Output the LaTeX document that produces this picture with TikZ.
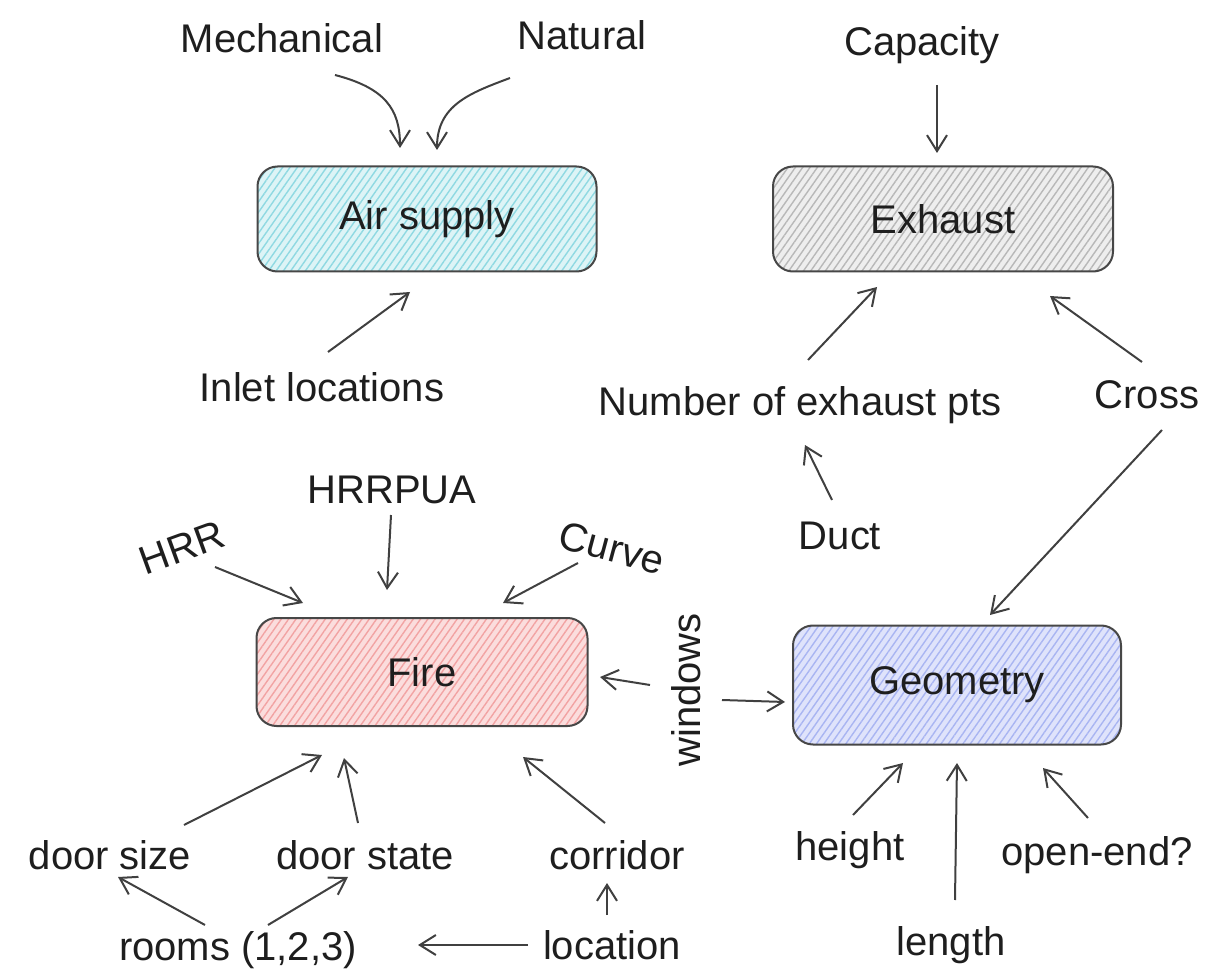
\documentclass[tikz,border=0pt]{standalone}
\usepackage{fontspec}
\setmainfont{Liberation Sans}
\usetikzlibrary{arrows.meta,calc,patterns.meta}
\definecolor{cyanL}{HTML}{8FD9E2}
\definecolor{cyanB}{HTML}{DDF4F6}
\definecolor{grayL}{HTML}{B8B8B8}
\definecolor{grayB}{HTML}{EEEEEE}
\definecolor{pinkL}{HTML}{F2A3A3}
\definecolor{pinkB}{HTML}{FBDDDD}
\definecolor{lavL}{HTML}{A9B5F2}
\definecolor{lavB}{HTML}{DFE3FB}
\definecolor{ink}{HTML}{1E1E1E}
\tikzset{
  lbl/.style={font=\fontsize{20}{24}\selectfont, text=ink, inner sep=1pt},
  box/.style n args={2}{rounded corners=10pt, draw=black!72, line width=1pt,
     preaction={fill=#2},
     pattern={Lines[angle=55,distance=3pt,line width=0.7pt]}, pattern color=#1,
     font=\fontsize{20}{24}\selectfont, text=ink, inner sep=0pt},
  arr/.style={-{Straight Barb[length=8pt,width=10pt,line width=1pt]}, line width=1pt, draw=black!75},
}
\begin{document}
\begin{tikzpicture}[x=0.5pt,y=-0.5pt]
\useasboundingbox (0,0) rectangle (1207,979);
% main boxes
\node[box={cyanL}{cyanB}, minimum width=169.5pt, minimum height=52.5pt] (air) at (427,219) {Air supply};
\node[box={grayL}{grayB}, minimum width=170pt, minimum height=52.5pt] (exh) at (943,219) {Exhaust};
\node[box={pinkL}{pinkB}, minimum width=165.5pt, minimum height=54pt] (fire) at (422,672) {Fire};
\node[box={lavL}{lavB}, minimum width=164pt, minimum height=59.5pt] (geo) at (957,685) {Geometry};
% labels
\node[lbl] (mech) at (282,38) {Mechanical};
\node[lbl] (nat) at (582,35) {Natural};
\node[lbl] (cap) at (922,45) {Capacity};
\node[lbl] (inlet) at (322,387) {Inlet locations};
\node[lbl] (num) at (800,405) {Number of exhaust pts};
\node[lbl] (cross) at (1147,395) {Cross};
\node[lbl] (duct) at (840,536) {Duct};
\node[lbl, rotate=20] (hrr) at (182,548) {HRR};
\node[lbl] (hrrpua) at (392,490) {HRRPUA};
\node[lbl, rotate=-15] (curve) at (612,548) {Curve};
\node[lbl, rotate=90] (win) at (686,690) {windows};
\node[lbl] (dsize) at (110,855) {door size};
\node[lbl] (dstate) at (365,855) {door state};
\node[lbl] (corr) at (617,855) {corridor};
\node[lbl] (height) at (850,850) {height};
\node[lbl] (open) at (1097,855) {open-end?};
\node[lbl] (rooms) at (238,950) {rooms (1,2,3)};
\node[lbl] (loc) at (612,945) {location};
\node[lbl] (length) at (951,945) {length};
% connectors
\draw[arr] ($(mech)+(53,37)$) .. controls ($(mech)+(103,50)$) and ($(air)+(-27,-110)$) .. ($(air)+(-27,-71)$);
\draw[arr] ($(nat)+(-72,43)$) .. controls ($(nat)+(-112,58)$) and ($(air)+(10,-114)$) .. ($(air)+(10,-69)$);
\draw[arr] ($(cap)+(15,40)$) -- ($(exh)+(-6,-66)$);
\draw[arr] ($(inlet)+(6,-35)$) -- ($(air)+(-17,73)$);
\draw[arr] ($(num)+(8,-45)$) -- ($(exh)+(-66,68)$);
\draw[arr] ($(cross)+(-5,-33)$) -- ($(exh)+(107,77)$);
\draw[arr] ($(duct)+(-8,-36)$) -- ($(num)+(5,40)$);
\draw[arr] ($(cross)+(15,35)$) -- ($(geo)+(33,-70)$);
\draw[arr] ($(hrr)+(33,19)$) -- ($(fire)+(-119,-69)$);
\draw[arr] ($(hrrpua)+(-1,25)$) -- ($(fire)+(-35,-82)$);
\draw[arr] ($(curve)+(-34,15)$) -- ($(fire)+(81,-69)$);
\draw[arr] ($(win)+(-36,-5)$) -- ($(fire)+(178,5)$);
\draw[arr] ($(win)+(36,10)$) -- ($(geo)+(-172,17)$);
\draw[arr] ($(dsize)+(74,-30)$) -- ($(fire)+(-100,83)$);
\draw[arr] ($(dstate)+(-7,-32)$) -- ($(fire)+(-78,86)$);
\draw[arr] ($(corr)+(-12,-32)$) -- ($(fire)+(101,85)$);
\draw[arr] ($(rooms)+(-33,-25)$) -- ($(dsize)+(8,22)$);
\draw[arr] ($(rooms)+(30,-25)$) -- ($(dstate)+(-17,22)$);
\draw[arr] ($(loc)+(-5,-30)$) -- ($(corr)+(-10,28)$);
\draw[arr] ($(loc)+(-84,0)$) -- ($(rooms)+(180,-5)$);
\draw[arr] ($(height)+(3,-35)$) -- ($(geo)+(-54,78)$);
\draw[arr] ($(length)+(4,-45)$) -- ($(geo)+(0,78)$);
\draw[arr] ($(open)+(-9,-37)$) -- ($(geo)+(86,83)$);
\end{tikzpicture}
\end{document}
